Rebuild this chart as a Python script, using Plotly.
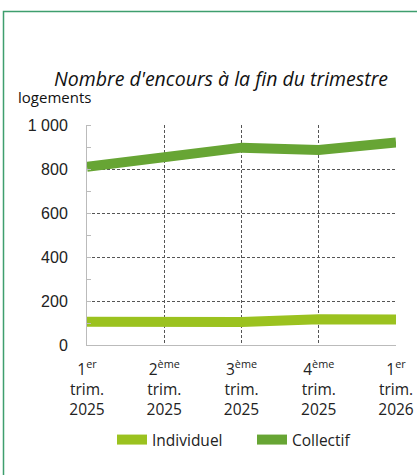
import plotly.graph_objects as go

categories = [
    "1<sup>er</sup><br>trim.<br>2025",
    "2<sup>ème</sup><br>trim.<br>2025",
    "3<sup>ème</sup><br>trim.<br>2025",
    "4<sup>ème</sup><br>trim.<br>2025",
    "1<sup>er</sup><br>trim.<br>2026",
]
individuel = [106, 106, 105, 117, 116]
collectif = [810, 851, 897, 886, 920]
y_ticks = [0, 200, 400, 600, 800, 1000]
y_tick_labels = ["0", "200", "400", "600", "800", "1 000"]

FONT = "Open Sans"
W, H = 417, 475
L, R, T, B = 87, 21, 125, 130
pw, ph = W - L - R, H - T - B

fig = go.Figure()
fig.add_trace(go.Scatter(x=categories, y=individuel, name="Individuel", mode="lines",
                         line=dict(color="#9BC21F", width=10), cliponaxis=False))
fig.add_trace(go.Scatter(x=categories, y=collectif, name="Collectif", mode="lines",
                         line=dict(color="#67A534", width=10), cliponaxis=False))

def px(x):
    return (x - L) / pw

def py(y):
    return (H - B - y) / ph

fig.update_layout(
    width=W, height=H,
    margin=dict(l=L, r=R, t=T, b=B, autoexpand=False),
    paper_bgcolor="white", plot_bgcolor="white",
    font=dict(family=FONT, color="#222222", size=15),
    showlegend=True,
    legend=dict(orientation="h", x=px(112), xanchor="left", y=py(440), yanchor="middle",
                font=dict(size=15.5, family=FONT), itemwidth=30,
                entrywidth=95, entrywidthmode="pixels"),
    xaxis=dict(showgrid=True, gridcolor="#555555", griddash="3px,2px", gridwidth=1,
               showline=True, linecolor="#bbbbbb", linewidth=1, mirror=False,
               ticks="", tickfont=dict(size=15.5, family=FONT), automargin=False,
               ticklabelstandoff=10, range=[0, 4], zeroline=False),
    yaxis=dict(range=[0, 1000], tickvals=y_ticks, ticktext=y_tick_labels,
               showgrid=True, gridcolor="#555555", griddash="3px,2px", gridwidth=1,
               showline=True, linecolor="#bbbbbb", linewidth=1, zeroline=False, automargin=False,
               ticks="", tickfont=dict(size=16, family="Liberation Sans"), ticklabelstandoff=15,
               minor=dict(dtick=100, ticks="inside", ticklen=4, tickcolor="#bbbbbb", showgrid=False)),
    annotations=[
        dict(text="<i>Nombre d'encours à la fin du trimestre</i>", xref="paper", yref="paper",
             x=px(52), y=py(78), xanchor="left", yanchor="middle", showarrow=False,
             font=dict(size=19.5, family=FONT, color="#111111")),
        dict(text="logements", xref="paper", yref="paper",
             x=px(16), y=py(97), xanchor="left", yanchor="middle", showarrow=False,
             font=dict(size=15, family=FONT, color="#111111")),
    ],
    shapes=[
        dict(type="rect", xref="paper", yref="paper", x0=px(3.5), x1=px(430), y0=py(490), y1=py(11.5),
             line=dict(color="#3E9E6E", width=1.5), layer="above"),
    ],
)

fig.write_html("out.html", config={"displayModeBar": False},
               post_script="document.body.style.margin='0';")
